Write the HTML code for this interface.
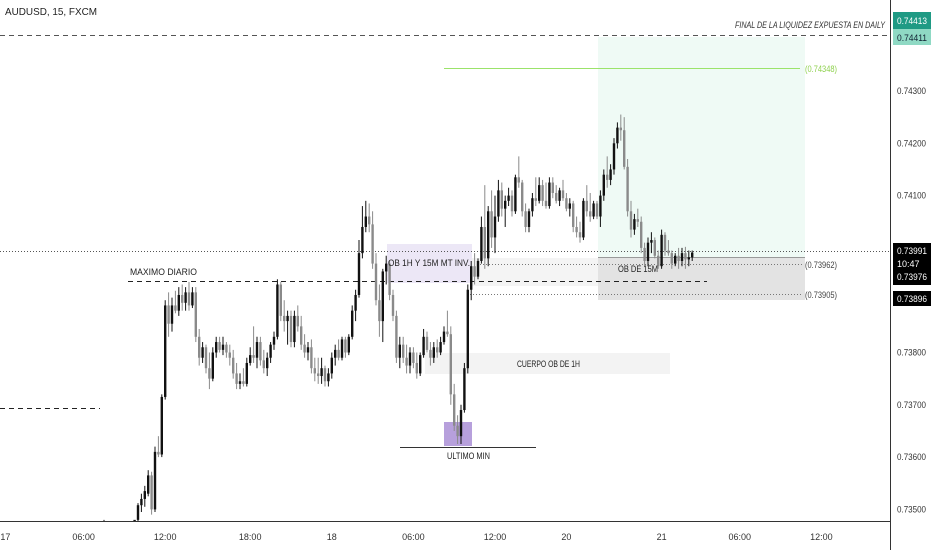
<!DOCTYPE html>
<html><head><meta charset="utf-8">
<style>
body{margin:0;background:#fff;}
svg{display:block;font-family:"Liberation Sans",sans-serif;}
</style></head>
<body>
<svg id="chart" width="932" height="550" viewBox="0 0 932 550">
<rect width="932" height="550" fill="#fff"/>
<g id="zones">
  <rect x="598" y="37" width="207" height="221" fill="#effaf5"/>
  <rect x="472" y="258" width="126" height="28" fill="#f4f4f4"/>
  <rect x="598" y="257" width="207" height="43" fill="#e3e3e3"/>
  <line x1="598" y1="257.5" x2="805" y2="257.5" stroke="#999"/>
  <rect x="387" y="244" width="85" height="39" fill="#ece7f6"/>
  <rect x="425" y="353" width="245" height="21" fill="#f3f3f3"/>
  <rect x="444" y="422" width="28" height="24" fill="#b7a0dc"/>
</g>
<g id="lines">
  <line x1="0" y1="35.5" x2="890" y2="35.5" stroke="#555" stroke-dasharray="5,4"/>
  <line x1="444" y1="68.5" x2="800" y2="68.5" stroke="#9be36a"/>
  <line x1="0" y1="251.5" x2="890" y2="251.5" stroke="#555" stroke-dasharray="1,2"/>
  <line x1="480" y1="264.5" x2="802" y2="264.5" stroke="#777" stroke-dasharray="1,2"/>
  <line x1="470" y1="294.5" x2="802" y2="294.5" stroke="#777" stroke-dasharray="1,2"/>
  <line x1="128" y1="281.5" x2="707" y2="281.5" stroke="#222" stroke-dasharray="5,4"/>
  <line x1="0" y1="408.5" x2="100" y2="408.5" stroke="#222" stroke-dasharray="5,4"/>
  <line x1="400" y1="447.5" x2="536" y2="447.5" stroke="#333"/>
</g>
<g id="candles"></g>
<g id="labels" font-size="9" fill="#222">
  <text x="5" y="15" font-size="10.5" textLength="92" lengthAdjust="spacingAndGlyphs">AUDUSD, 15, FXCM</text>
  <text x="735" y="28" font-style="italic" font-size="9" fill="#333" textLength="150" lengthAdjust="spacingAndGlyphs">FINAL DE LA LIQUIDEZ EXPUESTA EN DAILY</text>
  <text x="805" y="72" fill="#8fd14f" textLength="32" lengthAdjust="spacingAndGlyphs">(0.74348)</text>
  <text x="805" y="268" fill="#444" textLength="32" lengthAdjust="spacingAndGlyphs">(0.73962)</text>
  <text x="805" y="298" fill="#444" textLength="32" lengthAdjust="spacingAndGlyphs">(0.73905)</text>
  <text x="130" y="275" textLength="67" lengthAdjust="spacingAndGlyphs">MAXIMO DIARIO</text>
  <text x="388" y="266" textLength="82" lengthAdjust="spacingAndGlyphs">OB 1H Y 15M MT INV.</text>
  <text x="618" y="272" textLength="40" lengthAdjust="spacingAndGlyphs">OB DE 15M</text>
  <text x="517" y="367" textLength="63" lengthAdjust="spacingAndGlyphs">CUERPO OB DE 1H</text>
  <text x="447" y="459" textLength="43" lengthAdjust="spacingAndGlyphs">ULTIMO MIN</text>
</g>
<g id="axes">
  <rect x="890" y="0" width="42" height="550" fill="#fff"/>
  <rect x="0" y="522" width="932" height="28" fill="#fff"/>
  <line x1="890.5" y1="0" x2="890.5" y2="550" stroke="#333"/>
  <line x1="0" y1="521.5" x2="890" y2="521.5" stroke="#333"/>
</g>
<g id="yticks" font-size="9" fill="#333"></g>
<g id="xticks" font-size="9" fill="#333"></g>
<g id="tags" font-size="9">
  <rect x="893" y="12" width="38" height="17" fill="#1f9a84"/>
  <text x="897" y="24" fill="#fff" textLength="30" lengthAdjust="spacingAndGlyphs">0.74413</text>
  <rect x="893" y="29" width="38" height="16" fill="#8fd9c4"/>
  <text x="897" y="41" fill="#123" textLength="30" lengthAdjust="spacingAndGlyphs">0.74411</text>
  <rect x="893" y="243" width="38" height="42" fill="#000"/>
  <text x="897" y="254" fill="#fff" textLength="30" lengthAdjust="spacingAndGlyphs">0.73991</text>
  <text x="897" y="267" fill="#fff">10:47</text>
  <text x="897" y="280" fill="#fff" textLength="30" lengthAdjust="spacingAndGlyphs">0.73976</text>
  <rect x="893" y="291" width="38" height="15" fill="#000"/>
  <text x="897" y="302" fill="#fff" textLength="30" lengthAdjust="spacingAndGlyphs">0.73896</text>
</g>
</svg>
<script>
// candle values in units of 1e-5 above 0.73000 : [open, high, low, close]
const candleOHLC = [
[440,480,430,460],[460,470,430,450],[450,468,432,445],[445,466,430,455],[455,470,440,448],
[448,465,430,452],[452,470,440,460],[460,472,445,450],[450,468,438,458],[458,475,450,480],
[480,512,470,508],[508,530,495,520],[520,545,505,535],[530,575,525,565],[565,572,490,500],
[500,620,495,610],[610,640,600,605],[605,720,600,715],[715,900,710,890],[890,915,830,855],
[855,905,840,890],[890,918,875,880],[880,925,870,910],[910,930,880,895],[895,925,880,915],
[915,935,880,890],[890,925,885,915],[915,925,820,830],[830,845,775,790],[790,820,780,810],
[810,815,760,770],[770,800,730,750],[750,810,745,800],[800,830,790,820],[820,830,800,805],
[805,830,795,815],[815,820,790,800],[800,815,775,790],[790,805,750,760],[760,780,730,740],
[740,760,730,745],[745,770,735,740],[740,790,735,780],[780,810,775,795],[795,850,780,790],
[790,830,770,820],[820,830,775,785],[785,805,760,770],[770,800,755,790],[790,820,780,815],
[815,840,805,830],[830,940,825,930],[930,935,860,870],[870,900,840,860],[860,880,815,870],
[870,880,810,820],[820,880,810,870],[870,890,840,850],[850,870,805,815],[815,835,790,800],
[800,820,785,810],[810,825,760,770],[770,790,745,760],[760,790,740,755],[755,790,740,770],
[770,775,735,745],[745,770,735,760],[760,800,750,790],[790,815,775,805],[805,825,785,790],
[790,830,785,825],[825,830,790,800],[800,835,795,830],[830,890,825,880],[880,920,860,910],
[910,1015,905,990],[990,1080,980,1040],[1040,1090,1030,1060],[1060,1085,1030,1045],[1045,1070,960,970],
[970,990,890,900],[900,930,830,860],[860,960,820,955],[955,985,930,970],[970,975,900,910],
[910,920,860,870],[870,880,780,790],[790,830,770,815],[815,830,780,790],[790,815,760,775],
[775,810,760,800],[800,810,770,780],[780,800,750,760],[760,800,755,795],[795,845,790,830],
[830,840,800,805],[805,820,775,790],[790,820,780,810],[810,825,790,800],[800,830,795,820],
[820,850,815,840],[840,880,830,835],[835,850,700,720],[720,740,650,660],[660,680,625,640],
[640,700,625,690],[690,780,685,770],[770,930,760,920],[920,975,900,965],[965,990,930,945],
[945,980,940,975],[975,1060,970,1040],[1040,1120,960,980],[980,1080,965,1070],[1070,1110,1000,1020],
[1020,1100,990,1060],[1060,1130,1050,1110],[1110,1125,1060,1075],[1075,1100,1040,1090],[1090,1115,1080,1100],
[1100,1110,1060,1070],[1070,1140,1065,1135],[1135,1175,1115,1125],[1125,1130,1060,1070],[1070,1085,1030,1040],
[1040,1075,1030,1070],[1070,1105,1060,1095],[1095,1135,1080,1090],[1090,1135,1085,1120],[1120,1130,1080,1090],
[1090,1125,1075,1080],[1080,1135,1075,1125],[1125,1135,1095,1105],[1105,1120,1085,1090],[1090,1115,1080,1110],
[1110,1130,1090,1095],[1095,1105,1070,1075],[1075,1095,1060,1085],[1085,1090,1030,1040],[1040,1060,1020,1030],
[1030,1050,1010,1020],[1020,1095,1015,1090],[1090,1120,1060,1070],[1070,1105,1050,1060],[1060,1090,1055,1085],
[1085,1090,1055,1060],[1060,1110,1040,1100],[1100,1150,1090,1140],[1140,1175,1115,1130],[1130,1160,1120,1150],
[1150,1210,1140,1200],[1200,1240,1190,1230],[1230,1255,1205,1225],[1225,1250,1150,1155],[1155,1170,1060,1070],
[1070,1090,1020,1035],[1035,1065,1025,1055],[1055,1075,1040,1050],[1050,1060,990,1000],[1000,1010,965,975],
[975,1020,965,1010],[1010,1030,990,1015],[1015,1020,980,985],[985,995,960,965],[965,1035,960,1025],
[1025,1030,985,995],[995,1015,985,990],[990,995,960,970],[970,990,965,985],[985,1000,960,975],
[975,1000,965,990],[990,1002,960,978],[978,995,965,982],[982,995,975,991]
];
const priceTicks = [0.743, 0.742, 0.741, 0.738, 0.737, 0.736, 0.735];
const timeLabels = ["17","06:00","12:00","18:00","18","06:00","12:00","20","21","06:00","12:00"];
const timeLabelBar = [-29,-6,18,43,67,91,115,136,164,187,211];

const NS = "http://www.w3.org/2000/svg";
function yOf(p){ return 91 + (0.743 - p) * 52300; }
function xOf(i){ return 104 + i * 3.4; }
function price(v){ return 0.73 + v / 100000; }

const cg = document.getElementById('candles');
candleOHLC.forEach((c, i) => {
  const [o,h,l,cl] = c.map(price);
  const x = xOf(i);
  const up = cl >= o;
  const col = up ? "#111" : "#8a8a8a";
  const wick = document.createElementNS(NS,'line');
  wick.setAttribute('x1', x); wick.setAttribute('x2', x);
  wick.setAttribute('y1', yOf(h)); wick.setAttribute('y2', yOf(l));
  wick.setAttribute('stroke', col); wick.setAttribute('stroke-width', '1');
  
  
  cg.appendChild(wick);
  const body = document.createElementNS(NS,'rect');
  const top = yOf(Math.max(o,cl)), bot = yOf(Math.min(o,cl));
  body.setAttribute('x', x - 1.2); body.setAttribute('width', 2.4);
  body.setAttribute('y', top); body.setAttribute('height', Math.max(1, bot - top));
  body.setAttribute('fill', col);
  
  
  cg.appendChild(body);
});

const yg = document.getElementById('yticks');
priceTicks.forEach(p => {
  const t = document.createElementNS(NS,'text');
  t.setAttribute('x', 897); t.setAttribute('y', yOf(p) + 3);
  t.setAttribute('textLength', 29);
  t.setAttribute('lengthAdjust', 'spacingAndGlyphs');
  t.textContent = p.toFixed(5);
  
  
  yg.appendChild(t);
});
const xg = document.getElementById('xticks');
timeLabels.forEach((s, k) => {
  const t = document.createElementNS(NS,'text');
  t.setAttribute('x', Math.max(4, xOf(timeLabelBar[k]))); t.setAttribute('y', 540);
  t.setAttribute('text-anchor', 'middle');
  t.textContent = s;
  
  
  xg.appendChild(t);
});
</script>
</body></html>
